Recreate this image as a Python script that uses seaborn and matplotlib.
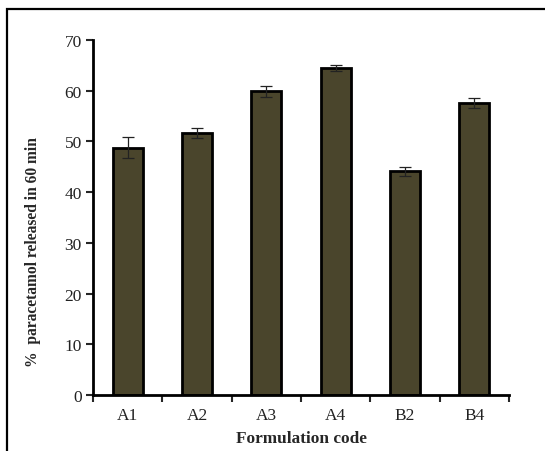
import numpy as np
import pandas as pd
import matplotlib
matplotlib.use("Agg")
import matplotlib.pyplot as plt
import matplotlib.patches as patches
import seaborn as sns

# data
codes = ["A1", "A2", "A3", "A4", "B2", "B4"]
released = [48.8, 51.6, 59.9, 64.5, 44.1, 57.5]
sd = [2.0, 1.0, 1.1, 0.6, 0.9, 1.0]

df = pd.DataFrame({"code": codes, "released": released, "sd": sd})

sns.set_style("white")
plt.rcParams["font.family"] = ["Liberation Serif", "DejaVu Serif"]

fig = plt.figure(figsize=(5.45, 4.52), dpi=100)
ax = fig.add_axes([0.1706, 0.1239, 0.7634, 0.7854])

sns.barplot(data=df, x="code", y="released", color="#4a452c", saturation=1,
            width=0.43, edgecolor="black", linewidth=2, errorbar=None, ax=ax)
ax.errorbar(np.arange(len(codes)), df["released"], yerr=df["sd"], fmt="none",
            ecolor="#222222", elinewidth=0.9, capsize=4, capthick=0.9)

ax.set_ylim(0, 70)
ax.set_xlim(-0.5, len(codes) - 0.5)
ax.set_yticks(range(0, 71, 10))
ax.set_xticks(np.arange(-0.5, len(codes), 1), minor=True)

for s in ["top", "right"]:
    ax.spines[s].set_visible(False)
for s in ["left", "bottom"]:
    ax.spines[s].set_linewidth(2)
    ax.spines[s].set_color("black")

ax.tick_params(axis="y", which="major", direction="out", length=5, width=1.5,
               labelsize=12.5, left=True, pad=3)
ax.tick_params(axis="x", which="major", length=0, labelsize=12.5, pad=9)
ax.tick_params(axis="x", which="minor", direction="out", length=5, width=1.5,
               bottom=True)
for t in ax.get_xticklabels() + ax.get_yticklabels():
    t.set_color("#222222")

ax.set_xlabel("Formulation code", fontsize=12.4, fontweight="bold", labelpad=5)
ax.set_ylabel("%  paracetamol released in 60 min", fontsize=11.2,
              fontweight="bold")
ax.yaxis.set_label_coords(-0.125, 0.406)

# outer frame, cut off on right and bottom like the source image
frame = patches.Rectangle((7 / 545, -0.05), 1.2, 1 - 10 / 452 + 0.05,
                          transform=fig.transFigure, fill=False,
                          edgecolor="black", linewidth=1.6, clip_on=False)
fig.add_artist(frame)

fig.savefig("out.png", dpi=100)
